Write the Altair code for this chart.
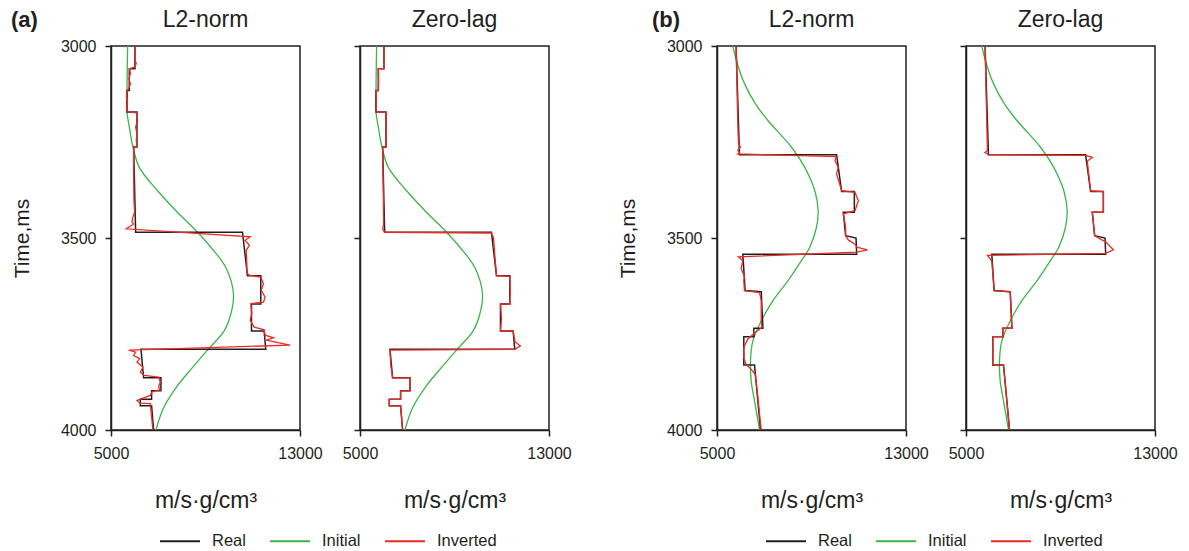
import altair as alt
import pandas as pd

SERIES = ["Real", "Initial", "Inverted"]
COLORS = ["#231f20", "#3db54a", "#ee2a24"]
FONT = "Liberation Sans"

# ---------------- (a) ----------------
real_a_time = [3000, 3059, 3059, 3116, 3116, 3172, 3172, 3263, 3263, 3485, 3485, 3598, 3598, 3672,
               3672, 3742, 3742, 3790, 3790, 3864, 3864, 3898, 3898, 3920, 3920, 3937, 3937, 4000]
real_a_val = [6014, 6014, 5775, 5775, 5676, 5676, 6099, 6099, 5958, 6043, 10565, 10777, 11340, 11340,
              10946, 10946, 11481, 11551, 6268, 6380, 7113, 7113, 6718, 6718, 6240, 6240, 6718, 6803]

init_a_time = [3000, 3050, 3100, 3172, 3211, 3263, 3316, 3377, 3429, 3485, 3524, 3577, 3646, 3698,
               3742, 3790, 3837, 3890, 3942, 4000]
init_a_val = [5704, 5690, 5680, 5676, 5775, 5930, 6198, 6972, 7748, 8663, 9227, 9861, 10185, 10072,
              9790, 9114, 8452, 7748, 7226, 6902]

l2_a_time = [3000, 3037, 3046, 3055, 3059, 3072, 3085, 3098, 3111, 3117, 3133, 3146, 3159, 3170,
             3174, 3194, 3211, 3228, 3246, 3261, 3265, 3332, 3402, 3432, 3445, 3458, 3464, 3476,
             3497, 3506, 3519, 3532, 3567, 3591, 3597, 3602, 3619, 3636, 3654, 3667, 3671, 3697,
             3714, 3732, 3739, 3753, 3760, 3766, 3779, 3792, 3797, 3806, 3814, 3823, 3836, 3849,
             3858, 3862, 3875, 3888, 3895, 3901, 3910, 3923, 3930, 3931, 3949, 3975, 4000]
l2_a_val = [6014, 6014, 6071, 5986, 5789, 5817, 5761, 5817, 5747, 5676, 5648, 5705, 5648, 5676,
            6071, 6127, 6043, 6099, 6071, 6099, 5958, 5958, 5972, 6000, 5930, 5888, 5958, 5648,
            10890, 10678, 10861, 10721, 10749, 10749, 10847, 11341, 11453, 11355, 11524, 11453, 10918, 10960,
            10890, 11059, 11481, 11524, 11876, 11566, 12580, 5747, 6043, 5958, 6212, 6099, 6353, 6240,
            6409, 7015, 7085, 7015, 7085, 6733, 6663, 6099, 6240, 6663, 6691, 6733, 6775]

zl_a_time = [3000, 3059, 3059, 3090, 3116, 3116, 3145, 3172, 3172, 3220, 3263, 3263, 3400, 3465,
             3477, 3485, 3487, 3500, 3540, 3598, 3600, 3640, 3672, 3672, 3710, 3742, 3742, 3770,
             3781, 3790, 3792, 3830, 3864, 3864, 3898, 3898, 3920, 3920, 3937, 3937, 4000]
zl_a_val = [6014, 6014, 5775, 5790, 5775, 5676, 5690, 5676, 6099, 6110, 6099, 5958, 5990, 6000,
            5958, 6043, 10565, 10650, 10700, 10777, 11340, 11360, 11340, 10946, 10990, 10946, 11481, 11560,
            11790, 11551, 6268, 6300, 6380, 7113, 7113, 6718, 6718, 6240, 6240, 6718, 6803]

# ---------------- (b) ----------------
real_b_time = [3000, 3283, 3283, 3379, 3379, 3433, 3433, 3494, 3500, 3542, 3542, 3637, 3640, 3735,
               3735, 3757, 3757, 3831, 3831, 4000]
real_b_val = [5808, 5950, 10062, 10275, 10814, 10814, 10346, 10445, 10885, 10913, 6092, 6191, 6872, 6943,
              6560, 6560, 6134, 6134, 6588, 6843]

init_b_time = [3000, 3050, 3098, 3150, 3194, 3263, 3316, 3377, 3429, 3472, 3524, 3559, 3611, 3663,
               3716, 3768, 3820, 3872, 3924, 4000]
init_b_val = [5666, 5880, 6163, 6620, 7155, 8148, 8715, 9141, 9282, 9211, 8928, 8573, 8006, 7368,
              6872, 6517, 6418, 6446, 6588, 6801]

l2_b_time = [3000, 3194, 3255, 3263, 3272, 3277, 3281, 3288, 3298, 3316, 3333, 3377, 3381, 3403,
             3429, 3437, 3472, 3494, 3505, 3516, 3524, 3531, 3537, 3549, 3559, 3580, 3600, 3611,
             3637, 3642, 3663, 3716, 3733, 3746, 3763, 3785, 3811, 3829, 3842, 3855, 3898, 3959, 4000]
l2_b_val = [5808, 5879, 5908, 5993, 5879, 5950, 5879, 10062, 9991, 10133, 10062, 10275, 10842, 10984,
            10842, 10346, 10445, 10445, 10559, 10842, 10913, 11367, 10913, 5908, 6092, 6021, 6163, 6134,
            6163, 6801, 6872, 6872, 6900, 6617, 6305, 6134, 6134, 6234, 6446, 6617, 6702, 6801, 6872]

zl_b_time = [3000, 3200, 3272, 3277, 3283, 3285, 3290, 3300, 3377, 3379, 3433, 3433, 3494, 3500,
             3510, 3531, 3540, 3545, 3560, 3637, 3640, 3735, 3735, 3757, 3757, 3831, 3831, 4000]
zl_b_val = [5808, 5879, 5908, 5800, 5950, 10062, 10346, 10133, 10275, 10814, 10814, 10346, 10445, 10600,
            10913, 11239, 10913, 5908, 6092, 6191, 6872, 6943, 6560, 6560, 6134, 6134, 6588, 6843]

x_ticks = [5000, 13000]
y_ticks = [3000, 3500, 4000]
x_title = "m/s·g/cm³"
y_title = "Time,ms"

PW, PH = 189, 384


def frame(vals, times, name):
    return pd.DataFrame({"v": vals, "t": times, "k": list(range(len(vals))), "series": name})


def label(text, x, align, weight):
    return alt.Chart(pd.DataFrame({"s": [text]})).mark_text(
        fontSize=23 if weight == "normal" else 22, fontWeight=weight, font=FONT, align=align,
        baseline="middle", color="#231f20"
    ).encode(text="s:N", x=alt.value(x), y=alt.value(-26))


def panel(real, init, inv, title, first, tag, tag_dx):
    xenc = alt.X("v:Q", scale=alt.Scale(domain=[5000, 13000], nice=False, zero=False),
                 axis=alt.Axis(values=x_ticks, title=x_title, format="d", grid=False,
                               labelPadding=9, titlePadding=28, labelFlush=False))
    if first:
        yaxis = alt.Axis(values=y_ticks, title=y_title, format="d", grid=False,
                         labelPadding=9, titlePadding=28)
        legend = alt.Legend(orient="none", legendX=48, legendY=474, direction="horizontal",
                            title=None, symbolType="stroke", symbolSize=1600,
                            symbolStrokeWidth=1.8, labelFontSize=16.5, labelFont=FONT,
                            labelColor="#231f20", columnPadding=20, labelOffset=11)
    else:
        yaxis = alt.Axis(values=y_ticks, title=None, labels=False, grid=False)
        legend = None
    yenc = alt.Y("t:Q", scale=alt.Scale(domain=[3000, 4000], reverse=True, nice=False, zero=False),
                 axis=yaxis)
    cenc = alt.Color("series:N", scale=alt.Scale(domain=SERIES, range=COLORS), legend=legend)
    base_enc = dict(x=xenc, y=yenc, color=cenc, order=alt.Order("k:Q"))
    g = alt.Chart(frame(init[0], init[1], "Initial")).mark_line(
        strokeWidth=1.3, interpolate="catmull-rom", clip=True).encode(**base_enc)
    r = alt.Chart(frame(real[0], real[1], "Real")).mark_line(
        strokeWidth=1.5, clip=True).encode(**base_enc)
    i = alt.Chart(frame(inv[0], inv[1], "Inverted")).mark_line(
        strokeWidth=1.3, clip=True).encode(**base_enc)
    layers = [g, r, i, label(title, PW / 2, "center", "normal")]
    if tag:
        layers.append(label(tag, tag_dx, "left", "bold"))
    return alt.layer(*layers).properties(width=PW, height=PH)


p1 = panel((real_a_val, real_a_time), (init_a_val, init_a_time), (l2_a_val, l2_a_time),
           "L2-norm", True, "(a)", -100)
p2 = panel((real_a_val, real_a_time), (init_a_val, init_a_time), (zl_a_val, zl_a_time),
           "Zero-lag", False, None, 0)
p3 = panel((real_b_val, real_b_time), (init_b_val, init_b_time), (l2_b_val, l2_b_time),
           "L2-norm", True, "(b)", -65)
p4 = panel((real_b_val, real_b_time), (init_b_val, init_b_time), (zl_b_val, zl_b_time),
           "Zero-lag", False, None, 0)

spacer = alt.Chart(pd.DataFrame({"z": [0]})).mark_point(opacity=0).encode(
    x=alt.X("z:Q", axis=None), y=alt.Y("z:Q", axis=None)
).properties(width=48, height=PH, view=alt.ViewBackground(strokeOpacity=0))

chart = alt.hconcat(p1, p2, spacer, p3, p4, spacing=60, bounds="flush").resolve_scale(
    color="independent", x="independent", y="independent"
).properties(
    padding={"left": 10, "top": 8, "right": 0, "bottom": 0}
).configure(font=FONT).configure_view(
    stroke="#231f20", strokeWidth=1.5
).configure_axis(
    domainColor="#231f20", domainWidth=1.5, tickColor="#231f20", tickWidth=1.5, tickSize=6,
    labelFont=FONT, labelFontSize=16, labelColor="#231f20",
    titleFont=FONT, titleFontSize=21, titleFontWeight="normal", titleColor="#231f20"
).configure_axisX(titleFontSize=23)

chart.save("out.html", embed_options={"renderer": "svg", "actions": False})
